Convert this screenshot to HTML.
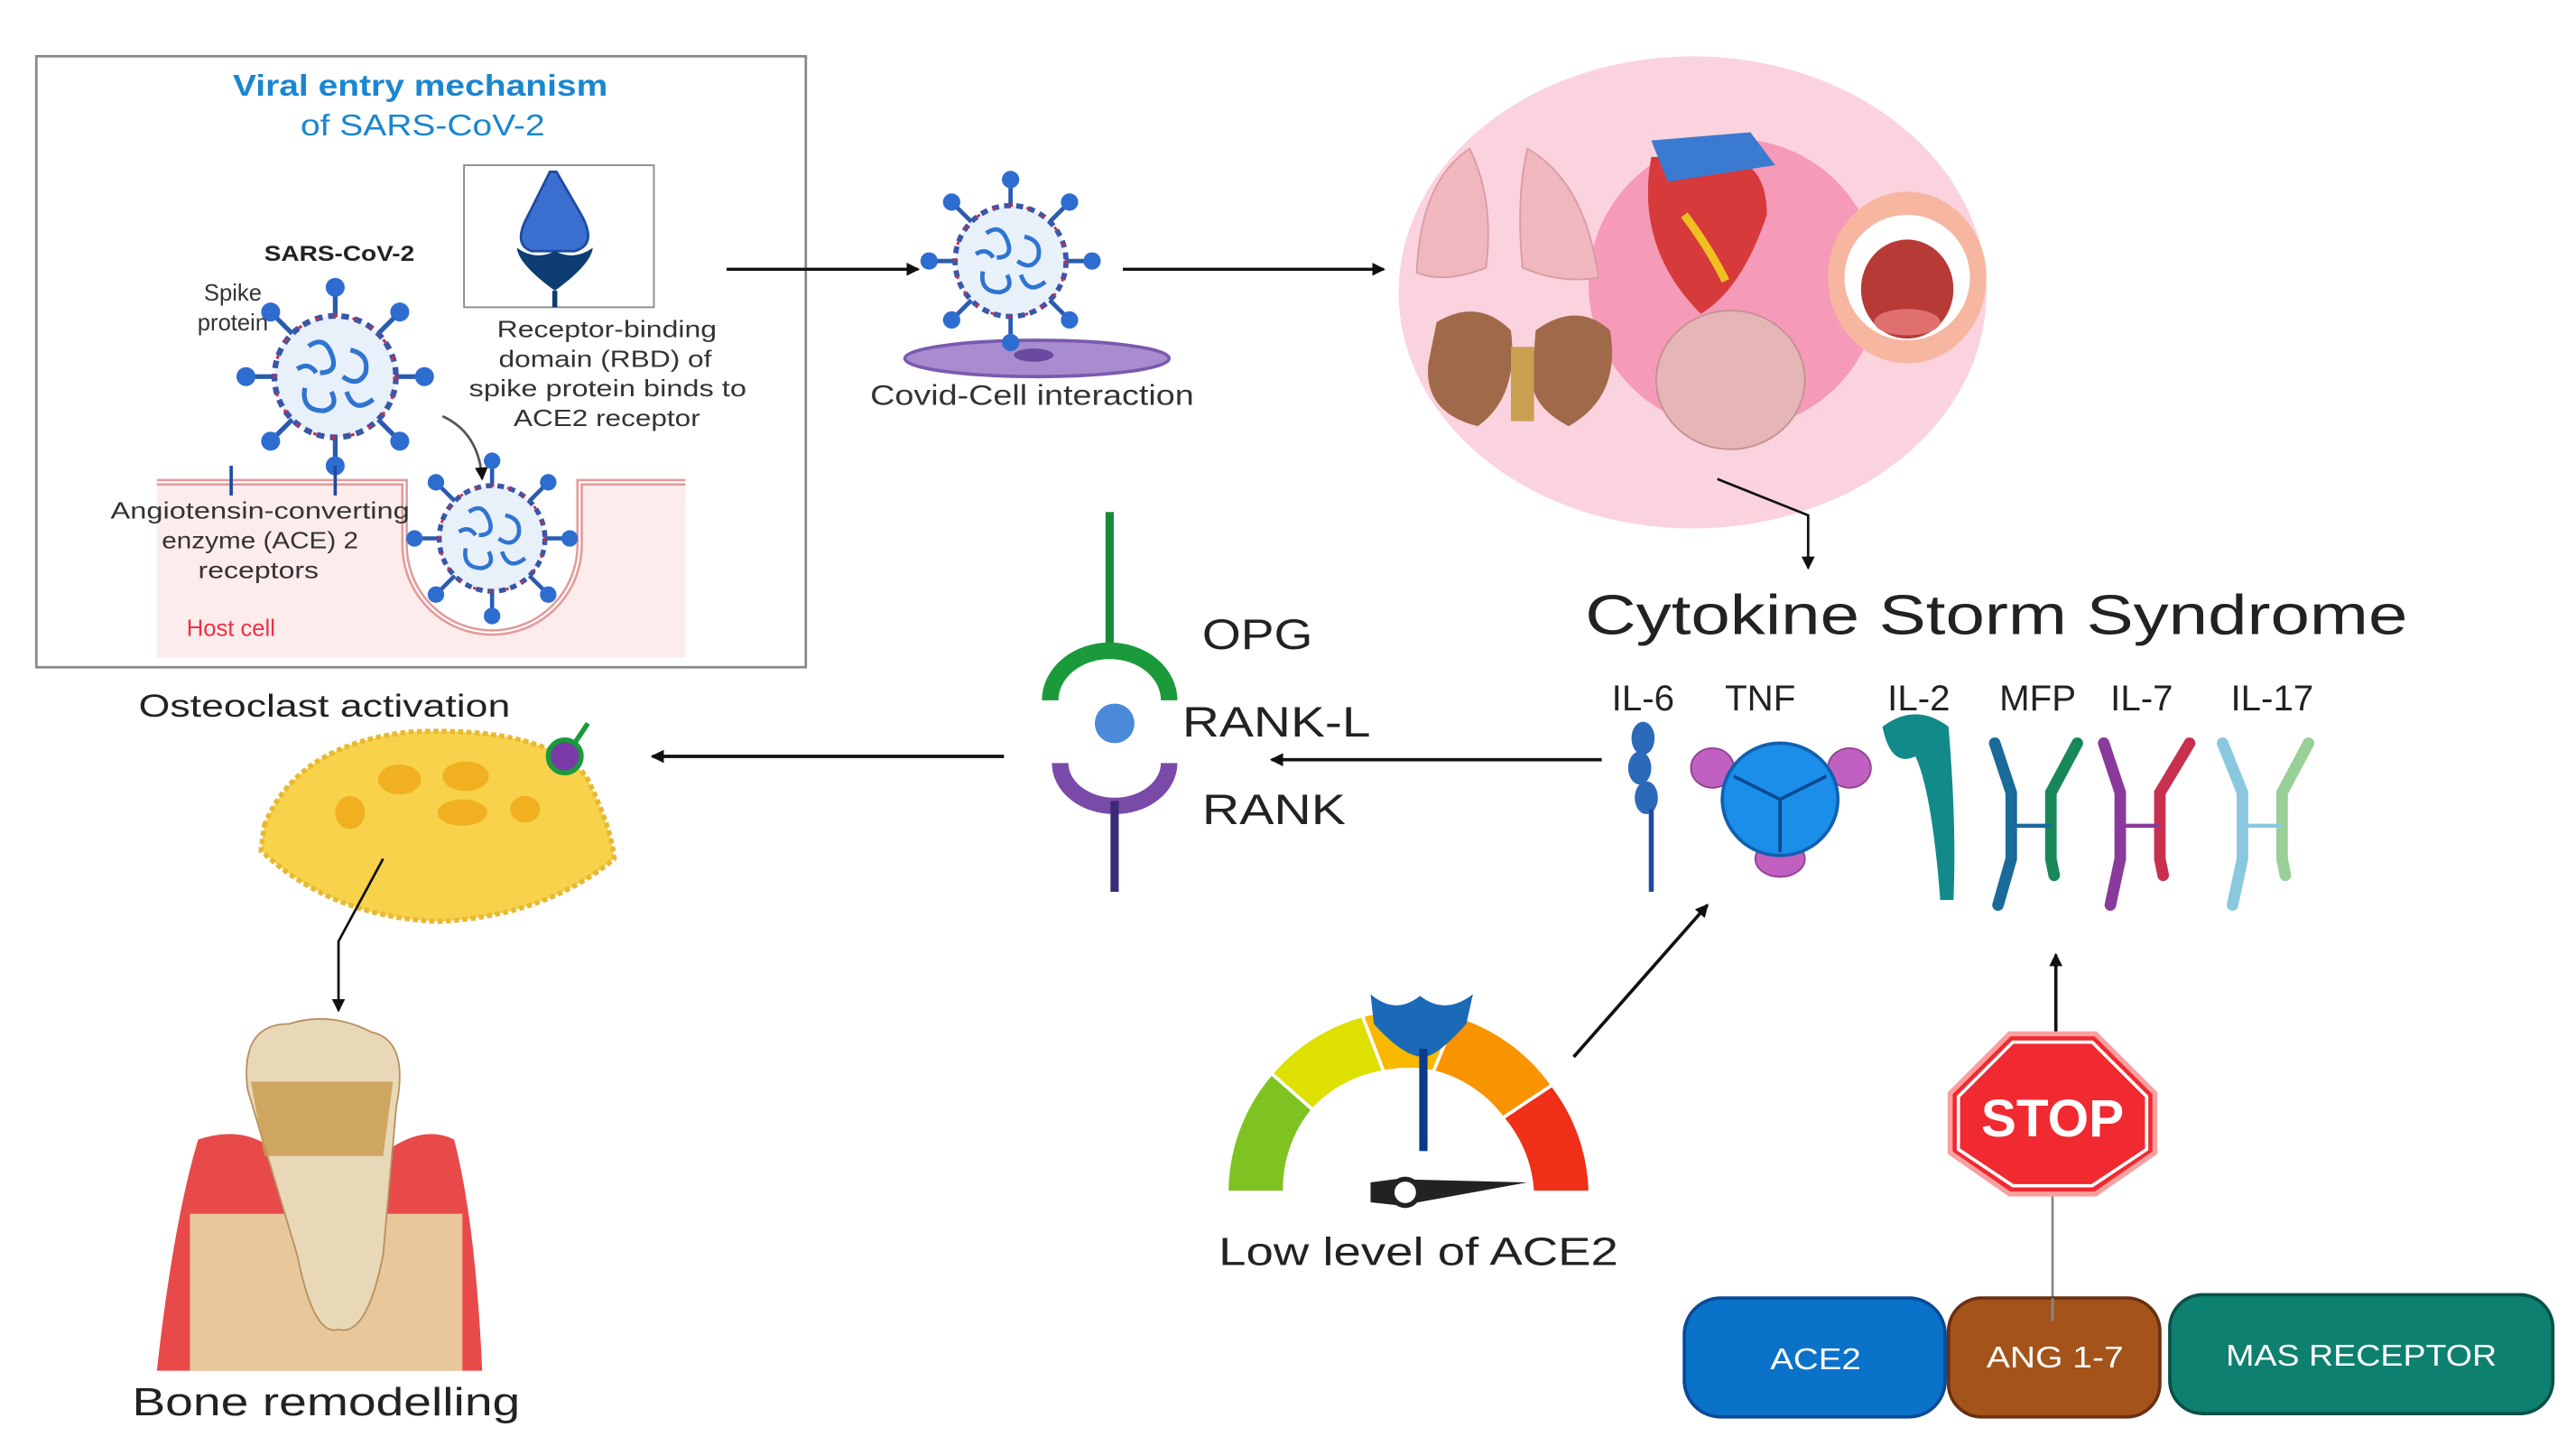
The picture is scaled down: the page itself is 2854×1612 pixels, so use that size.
<!DOCTYPE html>
<html><head><meta charset="utf-8"><style>
html,body{margin:0;padding:0;background:#fff;}
svg{display:block;}
text{font-family:"Liberation Sans",sans-serif;}
</style></head><body>
<svg width="2854" height="1612" viewBox="0 0 1560 881" xmlns="http://www.w3.org/2000/svg">
<defs>
<marker id="ah" markerWidth="8" markerHeight="8" refX="7" refY="4" orient="auto" markerUnits="userSpaceOnUse"><path d="M0,0 L8,4 L0,8 z" fill="#111"/></marker>
<g id="virus">
 <g stroke="#2a5bb0" stroke-width="2.5">
  <line x1="0" y1="-30" x2="0" y2="-46"/><line x1="0" y1="30" x2="0" y2="46"/>
  <line x1="-30" y1="0" x2="-46" y2="0"/><line x1="30" y1="0" x2="46" y2="0"/>
  <line x1="21" y1="21" x2="33" y2="33"/><line x1="-21" y1="21" x2="-33" y2="33"/>
  <line x1="21" y1="-21" x2="33" y2="-33"/><line x1="-21" y1="-21" x2="-33" y2="-33"/>
 </g>
 <g fill="#2e6dd0">
  <circle cx="0" cy="-47" r="5"/><circle cx="0" cy="47" r="5"/><circle cx="-47" cy="0" r="5"/><circle cx="47" cy="0" r="5"/>
  <circle cx="34" cy="34" r="5"/><circle cx="-34" cy="34" r="5"/><circle cx="34" cy="-34" r="5"/><circle cx="-34" cy="-34" r="5"/>
 </g>
 <circle r="32" fill="#e8f0fa" stroke="#3a56a8" stroke-width="3" stroke-dasharray="4 3"/>
 <circle r="32" fill="none" stroke="#c03050" stroke-width="1.5" stroke-dasharray="2 8"/>
 <g fill="none" stroke="#2f74d0" stroke-width="2.5">
  <path d="M-14,-16 q8,-6 12,4 q4,10 -6,10"/><path d="M8,-14 q10,2 8,12 q-4,8 -12,2"/>
  <path d="M-16,6 q-2,12 10,12 q8,-2 4,-10"/><path d="M6,8 q4,12 14,4"/><path d="M-20,-4 q6,-4 10,2"/>
 </g>
</g>
</defs>

<!-- Viral entry box -->
<rect x="22" y="34" width="466" height="370" fill="#fff" stroke="#888" stroke-width="1.5"/>
<text x="141" y="58" font-size="18" font-weight="bold" fill="#1a86cf" textLength="227" lengthAdjust="spacingAndGlyphs">Viral entry mechanism</text>
<text x="182" y="82" font-size="18" fill="#1a86cf" textLength="148" lengthAdjust="spacingAndGlyphs">of SARS-CoV-2</text>
<rect x="281" y="100" width="115" height="86" fill="#fff" stroke="#888" stroke-width="1"/>
<path d="M333,104 L337,104 L352,130 Q362,148 348,152 L322,152 Q310,148 320,130 Z" fill="#3a6fd0" stroke="#1e4aa0" stroke-width="1.5"/>
<path d="M313,150 Q314,160 336,176 Q358,160 359,150 Q348,158 336,152 Q324,158 313,150 Z" fill="#0d3d73"/>
<line x1="336" y1="176" x2="336" y2="186" stroke="#0d3d73" stroke-width="3"/>
<text x="160" y="158" font-size="13" font-weight="bold" fill="#222" textLength="91" lengthAdjust="spacingAndGlyphs">SARS-CoV-2</text>
<text x="141" y="182" font-size="14" fill="#333" text-anchor="middle">Spike</text>
<text x="141" y="200" font-size="14" fill="#333" text-anchor="middle">protein</text>
<use href="#virus" transform="translate(203,228) scale(1.15)"/>
<text x="301" y="204" font-size="14" fill="#333" textLength="133" lengthAdjust="spacingAndGlyphs">Receptor-binding</text>
<text x="302" y="222" font-size="14" fill="#333" textLength="129" lengthAdjust="spacingAndGlyphs">domain (RBD) of</text>
<text x="284" y="240" font-size="14" fill="#333" textLength="168" lengthAdjust="spacingAndGlyphs">spike protein binds to</text>
<text x="311" y="258" font-size="14" fill="#333" textLength="113" lengthAdjust="spacingAndGlyphs">ACE2 receptor</text>
<path d="M268,252 Q290,262 292,290" fill="none" stroke="#555" stroke-width="1.5" marker-end="url(#ah)"/>
<!-- host cell -->
<path d="M95,290 L245,290 L245,330 A53,53 0 0 0 351,330 L351,290 L415,290 L415,398 L95,398 Z" fill="#fdecec"/>
<path d="M95,292 L245,292 L245,330 A53,53 0 0 0 351,330 L351,292 L415,292" fill="none" stroke="#e49a9a" stroke-width="4"/>
<path d="M95,292 L245,292 L245,330 A53,53 0 0 0 351,330 L351,292 L415,292" fill="none" stroke="#fff" stroke-width="1.2"/>
<use href="#virus" transform="translate(298,326) scale(1.0)" />
<g stroke="#1e4aa0" stroke-width="2"><line x1="140" y1="282" x2="140" y2="300"/><line x1="203" y1="282" x2="203" y2="300"/></g>
<text x="67" y="314" font-size="14" fill="#333" textLength="181" lengthAdjust="spacingAndGlyphs">Angiotensin-converting</text>
<text x="98" y="332" font-size="14" fill="#333" textLength="119" lengthAdjust="spacingAndGlyphs">enzyme (ACE) 2</text>
<text x="120" y="350" font-size="14" fill="#333" textLength="73" lengthAdjust="spacingAndGlyphs">receptors</text>
<text x="113" y="385" font-size="14" fill="#f03040">Host cell</text>

<!-- arrow to covid-cell -->
<line x1="440" y1="163" x2="556" y2="163" stroke="#111" stroke-width="1.8" marker-end="url(#ah)"/>
<ellipse cx="628" cy="217" rx="80" ry="11" fill="#a98bd0" stroke="#7a5ab0" stroke-width="2"/>
<ellipse cx="626" cy="215" rx="12" ry="4" fill="#6a4aa0"/>
<use href="#virus" transform="translate(612,158) scale(1.05)"/>
<text x="527" y="245" font-size="17" fill="#333" textLength="196" lengthAdjust="spacingAndGlyphs">Covid-Cell interaction</text>
<line x1="680" y1="163" x2="838" y2="163" stroke="#111" stroke-width="1.8" marker-end="url(#ah)"/>

<!-- organs circle -->
<ellipse cx="1025" cy="177" rx="178" ry="143" fill="#fbd3de"/>
<circle cx="1050" cy="172" r="88" fill="#f59ab8"/>
<path d="M890,90 Q860,110 858,165 Q875,172 900,162 Q905,120 890,90Z" fill="#f0b7bf" stroke="#d99aa4"/>
<path d="M925,90 Q960,110 968,168 Q945,172 922,162 Q918,120 925,90Z" fill="#f0b7bf" stroke="#d99aa4"/>
<path d="M1000,95 Q990,150 1030,190 Q1055,175 1070,130 Q1070,95 1040,95 Z" fill="#d63a3a"/>
<path d="M1000,85 L1060,80 L1075,100 L1010,110Z" fill="#3a7ad0"/>
<path d="M1020,130 Q1035,150 1045,170" stroke="#f0c020" stroke-width="5" fill="none"/>
<ellipse cx="1155" cy="168" rx="48" ry="52" fill="#f7b6a0"/>
<ellipse cx="1155" cy="168" rx="38" ry="38" fill="#fff"/>
<ellipse cx="1155" cy="175" rx="28" ry="30" fill="#b83a36"/>
<ellipse cx="1155" cy="195" rx="20" ry="8" fill="#e07070"/>
<path d="M870,195 Q895,180 915,200 Q920,240 895,258 Q862,250 865,220Z" fill="#a06a4a"/>
<path d="M930,200 Q955,182 975,200 Q982,240 950,258 Q925,245 928,225Z" fill="#a06a4a"/>
<rect x="915" y="210" width="14" height="45" fill="#c9a050"/>
<ellipse cx="1048" cy="230" rx="45" ry="42" fill="#e6b6b6" stroke="#c49090"/>
<path d="M1040,290 L1095,312 L1095,344" fill="none" stroke="#111" stroke-width="1.5" marker-end="url(#ah)"/>

<text x="960" y="384" font-size="34" fill="#222" textLength="498" lengthAdjust="spacingAndGlyphs">Cytokine Storm Syndrome</text>
<g font-size="22" fill="#222" text-anchor="middle">
<text x="995" y="430">IL-6</text><text x="1066" y="430">TNF</text><text x="1162" y="430">IL-2</text>
<text x="1234" y="430">MFP</text><text x="1297" y="430">IL-7</text><text x="1376" y="430">IL-17</text>
</g>
<!-- cytokines -->
<g fill="#2a6ab8"><ellipse cx="995" cy="447" rx="7" ry="10"/><ellipse cx="993" cy="465" rx="7" ry="10"/><ellipse cx="997" cy="483" rx="7" ry="10"/></g>
<line x1="1000" y1="490" x2="1000" y2="540" stroke="#1e4aa0" stroke-width="3"/>
<ellipse cx="1037" cy="465" rx="13" ry="12" fill="#c060c0" stroke="#904090"/>
<ellipse cx="1120" cy="465" rx="13" ry="12" fill="#c060c0" stroke="#904090"/>
<ellipse cx="1078" cy="520" rx="15" ry="11" fill="#c060c0" stroke="#904090"/>
<ellipse cx="1078" cy="484" rx="35" ry="34" fill="#1a8ee8" stroke="#1060b0" stroke-width="2"/>
<path d="M1078,484 L1050,470 M1078,484 L1106,470 M1078,484 L1078,516" stroke="#0a4a90" stroke-width="2"/>
<path d="M1140,440 Q1160,425 1180,440 Q1185,500 1183,545 L1175,545 Q1170,480 1160,458 Q1145,465 1140,440Z" fill="#128a8a"/>
<g stroke-width="7" stroke-linecap="round" fill="none">
<path d="M1208,450 L1218,480 L1218,520 L1210,548" stroke="#1a6a9a"/><path d="M1258,450 L1242,480 L1242,520 L1244,530" stroke="#18885a"/>
<path d="M1274,450 L1284,480 L1284,520 L1278,548" stroke="#8a3a9a"/><path d="M1326,450 L1308,480 L1308,520 L1310,530" stroke="#c83050"/>
<path d="M1346,450 L1358,480 L1358,520 L1352,548" stroke="#8ac8e0"/><path d="M1398,450 L1382,480 L1382,520 L1384,530" stroke="#98d098"/>
</g>
<g stroke-width="2.5"><line x1="1218" y1="500" x2="1242" y2="500" stroke="#1a6a9a"/><line x1="1284" y1="500" x2="1308" y2="500" stroke="#8a3a9a"/><line x1="1358" y1="500" x2="1382" y2="500" stroke="#8ac8e0"/></g>

<!-- arrow to RANK -->
<line x1="970" y1="460" x2="770" y2="460" stroke="#111" stroke-width="2" marker-end="url(#ah)"/>
<line x1="672" y1="310" x2="672" y2="395" stroke="#1a8a3a" stroke-width="5"/>
<path d="M636,424 A36,30 0 0 1 708,424" fill="none" stroke="#1a9a3a" stroke-width="10"/>
<circle cx="675" cy="438" r="12" fill="#4a8ad8"/>
<path d="M642,462 A33,26 0 0 0 708,462" fill="none" stroke="#7a4aa8" stroke-width="10"/>
<line x1="675" y1="485" x2="675" y2="540" stroke="#3a2a78" stroke-width="5"/>
<text x="728" y="393" font-size="26" fill="#222" textLength="67" lengthAdjust="spacingAndGlyphs">OPG</text>
<text x="716" y="446" font-size="26" fill="#222" textLength="114" lengthAdjust="spacingAndGlyphs">RANK-L</text>
<text x="728" y="499" font-size="26" fill="#222" textLength="87" lengthAdjust="spacingAndGlyphs">RANK</text>
<line x1="608" y1="458" x2="395" y2="458" stroke="#111" stroke-width="2" marker-end="url(#ah)"/>

<!-- osteoclast -->
<text x="84" y="434" font-size="19" fill="#222" textLength="225" lengthAdjust="spacingAndGlyphs">Osteoclast activation</text>
<path d="M160,500 Q180,450 250,443 Q330,440 355,470 Q370,500 372,520 Q330,555 265,558 Q200,555 158,515 Z" fill="#f7d24a" stroke="#e8b830" stroke-width="3" stroke-dasharray="3 2"/>
<g fill="#f0b020"><ellipse cx="242" cy="472" rx="13" ry="9"/><ellipse cx="282" cy="470" rx="14" ry="9"/><ellipse cx="280" cy="492" rx="15" ry="8"/><ellipse cx="212" cy="492" rx="9" ry="10"/><ellipse cx="318" cy="490" rx="9" ry="8"/></g>
<circle cx="342" cy="458" r="10" fill="#7a3aa8" stroke="#1a9a3a" stroke-width="3"/>
<line x1="348" y1="450" x2="356" y2="438" stroke="#1a9a3a" stroke-width="3"/>
<path d="M232,520 L205,570 L205,612" fill="none" stroke="#111" stroke-width="1.5" marker-end="url(#ah)"/>

<!-- tooth -->
<path d="M95,830 Q105,740 120,690 Q150,680 170,700 L230,700 Q255,680 275,690 Q288,740 292,830 Z" fill="#e84a4a"/>
<rect x="115" y="735" width="165" height="95" fill="#e8c89a"/>
<path d="M150,660 Q145,620 175,620 Q200,612 225,625 Q248,630 240,670 L232,760 Q222,810 205,805 Q190,810 180,760 Z" fill="#e8d8b8" stroke="#b89060"/>
<path d="M152,655 L238,655 L232,700 L160,700 Z" fill="#c89a4a" opacity="0.8"/>
<text x="80" y="857" font-size="24" fill="#222" textLength="235" lengthAdjust="spacingAndGlyphs">Bone remodelling</text>

<!-- gauge -->
<g stroke="#fff" stroke-width="2">
<path d="M743,722 A110,110 0 0 1 770,650 L795,672 A75,75 0 0 0 778,722 Z" fill="#7ec321"/>
<path d="M770,650 A110,110 0 0 1 825,615 L838,649 A75,75 0 0 0 795,672 Z" fill="#dde000"/>
<path d="M825,615 A110,110 0 0 1 882,615 L868,649 A75,75 0 0 0 838,649 Z" fill="#f8b800"/>
<path d="M882,615 A110,110 0 0 1 940,657 L910,677 A75,75 0 0 0 868,649 Z" fill="#f89400"/>
<path d="M940,657 A110,110 0 0 1 963,722 L928,722 A75,75 0 0 0 910,677 Z" fill="#f03018"/>
</g>
<path d="M830,602 Q845,615 860,603 Q875,615 892,602 L888,620 Q870,640 862,640 Q850,640 832,620 Z" fill="#1a6ab8"/>
<line x1="862" y1="635" x2="862" y2="697" stroke="#0a3a8a" stroke-width="5"/>
<path d="M830,716 L845,714 L925,716 L848,730 L830,728 Z" fill="#222"/>
<circle cx="851" cy="722" r="8" fill="#fff" stroke="#222" stroke-width="3"/>
<text x="738" y="766" font-size="24" fill="#222" textLength="242" lengthAdjust="spacingAndGlyphs">Low level of ACE2</text>
<line x1="953" y1="640" x2="1034" y2="548" stroke="#111" stroke-width="2" marker-end="url(#ah)"/>

<!-- stop -->
<line x1="1245" y1="628" x2="1245" y2="578" stroke="#111" stroke-width="2" marker-end="url(#ah)"/>
<line x1="1243" y1="720" x2="1243" y2="800" stroke="#888" stroke-width="1.5"/>
<polygon points="1217,626 1269,626 1305,662 1305,698 1269,723 1217,723 1181,698 1181,662" fill="#f02a30" stroke="#f8a0a0" stroke-width="3"/>
<polygon points="1219,631 1267,631 1300,664 1300,696 1267,718 1219,718 1186,696 1186,664" fill="none" stroke="#fff" stroke-width="2"/>
<text x="1243" y="688" font-size="32" font-weight="bold" fill="#fff" text-anchor="middle">STOP</text>

<!-- boxes -->
<rect x="1020" y="786" width="158" height="72" rx="22" fill="#0a72c8" stroke="#0a4a98" stroke-width="2"/>
<text x="1072" y="829" font-size="18" fill="#fff" textLength="55" lengthAdjust="spacingAndGlyphs">ACE2</text>
<rect x="1180" y="786" width="128" height="72" rx="20" fill="#a4541a" stroke="#6a3010" stroke-width="2"/>
<text x="1203" y="828" font-size="18" fill="#fff" textLength="83" lengthAdjust="spacingAndGlyphs">ANG 1-7</text>
<rect x="1314" y="784" width="232" height="72" rx="20" fill="#0e8070" stroke="#0a5048" stroke-width="2"/>
<text x="1348" y="827" font-size="18" fill="#fff" textLength="164" lengthAdjust="spacingAndGlyphs">MAS RECEPTOR</text>
<line x1="1243" y1="786" x2="1243" y2="800" stroke="#888" stroke-width="1.5"/>
</svg>
</body></html>
